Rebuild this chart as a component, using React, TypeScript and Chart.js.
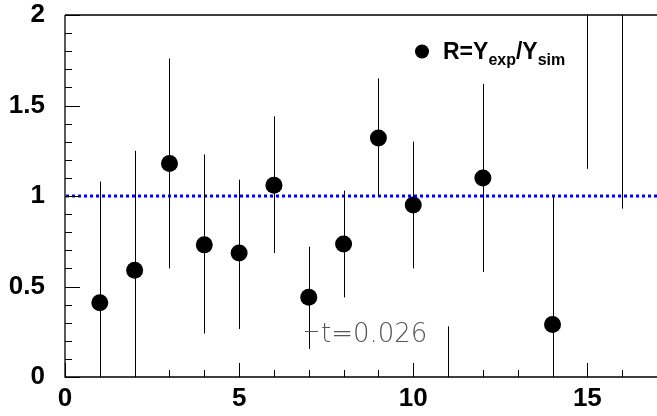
import { useEffect, useRef } from 'react';
import { Chart, registerables } from 'chart.js';

Chart.register(...registerables);

// ---- data ----
const xs = [1, 2, 3, 4, 5, 6, 7, 8, 9, 10, 11, 12, 14, 15, 16];
const ratio: (number | null)[] = [0.41, 0.59, 1.18, 0.73, 0.685, 1.06, 0.44, 0.735, 1.32, 0.95, null, 1.1, 0.29, 2.5, 2.4];
const errLow = [0, 0, 0.6, 0.24, 0.265, 0.685, 0.155, 0.44, 1.0, 0.6, 0, 0.58, 0, 1.15, 0.93];
const errHigh = [1.08, 1.25, 1.76, 1.23, 1.09, 1.44, 0.72, 1.03, 1.65, 1.3, 0.28, 1.62, 1.0, 3.6, 3.7];
const refValue = 1.0;
const xRange = [0, 17];
const yRange = [0, 2];
const xMajorStep = 5;
const yMajorStep = 0.5;
const xMinorPerMajor = 5;
const yMinorPerMajor = 5;
const legendLabel = { main: 'R=Y', sub1: 'exp', mid: '/Y', sub2: 'sim' };
const noteLabel = 't=0.026';

const decor = {
  id: 'rootDecor',
  beforeDatasetsDraw(chart: any) {
    const { ctx, chartArea: a, scales } = chart;
    const xs_ = scales.x;
    const ys_ = scales.y;
    ctx.save();
    ctx.beginPath();
    ctx.rect(a.left, a.top, a.right - a.left, a.bottom - a.top);
    ctx.clip();
    // reference dotted line
    const yr = ys_.getPixelForValue(refValue);
    ctx.strokeStyle = '#0000ff';
    ctx.lineWidth = 3;
    ctx.setLineDash([3, 3]);
    ctx.beginPath();
    ctx.moveTo(a.left + 1, yr);
    ctx.lineTo(a.right, yr);
    ctx.stroke();
    ctx.setLineDash([]);
    // error bars
    ctx.strokeStyle = '#000';
    ctx.lineWidth = 1;
    xs.forEach((x, i) => {
      const px = Math.round(xs_.getPixelForValue(x)) + 0.5;
      ctx.beginPath();
      ctx.moveTo(px, ys_.getPixelForValue(errLow[i]));
      ctx.lineTo(px, ys_.getPixelForValue(errHigh[i]));
      ctx.stroke();
    });
    ctx.restore();
  },
  afterDatasetsDraw(chart: any) {
    const { ctx, chartArea: a, scales } = chart;
    const xs_ = scales.x;
    const ys_ = scales.y;
    ctx.save();
    ctx.strokeStyle = '#000';
    ctx.lineWidth = 1.3;
    // frame: left axis, bottom axis, top line
    ctx.beginPath();
    ctx.moveTo(a.left, a.top);
    ctx.lineTo(a.left, a.bottom);
    ctx.lineTo(a.right, a.bottom);
    ctx.moveTo(a.left, a.top);
    ctx.lineTo(a.right, a.top);
    ctx.stroke();
    ctx.lineWidth = 1;
    // y ticks
    const ymaj = ys_.ticks.map((t: any) => t.value);
    for (let k = 0; k < ymaj.length; k++) {
      const v = ymaj[k];
      const py = Math.round(ys_.getPixelForValue(v)) + 0.5;
      ctx.beginPath();
      ctx.moveTo(a.left, py);
      ctx.lineTo(a.left + 15, py);
      ctx.stroke();
      if (k < ymaj.length - 1) {
        for (let m = 1; m < yMinorPerMajor; m++) {
          const mv = v + (yMajorStep * m) / yMinorPerMajor;
          const mp = Math.round(ys_.getPixelForValue(mv)) + 0.5;
          ctx.beginPath();
          ctx.moveTo(a.left, mp);
          ctx.lineTo(a.left + 7, mp);
          ctx.stroke();
        }
      }
    }
    // x ticks
    const xmaj = xs_.ticks.map((t: any) => t.value);
    for (let k = 0; k < xmaj.length; k++) {
      const v = xmaj[k];
      const px = Math.round(xs_.getPixelForValue(v)) + 0.5;
      ctx.beginPath();
      ctx.moveTo(px, a.bottom);
      ctx.lineTo(px, a.bottom - 14);
      ctx.stroke();
      for (let m = 1; m < xMinorPerMajor; m++) {
        const mv = v + (xMajorStep * m) / xMinorPerMajor;
        if (mv > xRange[1]) break;
        const mp = Math.round(xs_.getPixelForValue(mv)) + 0.5;
        ctx.beginPath();
        ctx.moveTo(mp, a.bottom);
        ctx.lineTo(mp, a.bottom - 7);
        ctx.stroke();
      }
    }
    ctx.restore();
  },
  afterDraw(chart: any) {
    const { ctx } = chart;
    ctx.save();
    // legend marker
    ctx.fillStyle = '#000';
    ctx.beginPath();
    ctx.arc(422, 51.5, 7, 0, Math.PI * 2);
    ctx.fill();
    // legend text with subscripts
    let x = 443;
    const base = 59;
    const big = "bold 23px 'Liberation Sans', Arial, sans-serif";
    const small = "bold 16px 'Liberation Sans', Arial, sans-serif";
    ctx.textBaseline = 'alphabetic';
    ctx.textAlign = 'left';
    ctx.font = big;
    ctx.fillText(legendLabel.main, x, base);
    x += ctx.measureText(legendLabel.main).width;
    ctx.font = small;
    ctx.fillText(legendLabel.sub1, x, base + 6);
    x += ctx.measureText(legendLabel.sub1).width;
    ctx.font = big;
    ctx.fillText(legendLabel.mid, x, base);
    x += ctx.measureText(legendLabel.mid).width;
    ctx.font = small;
    ctx.fillText(legendLabel.sub2, x, base + 6);
    // note text
    ctx.strokeStyle = '#555';
    ctx.lineWidth = 1;
    ctx.beginPath();
    ctx.moveTo(305, 331.5);
    ctx.lineTo(318, 331.5);
    ctx.stroke();
    ctx.fillStyle = '#555';
    ctx.font = "200 26px 'DejaVu Sans', Inter, sans-serif";
    ctx.fillText(noteLabel, 321, 342);
    ctx.restore();
  },
};

export default function App() {
  const ref = useRef<HTMLCanvasElement | null>(null);
  useEffect(() => {
    document.body.style.margin = '0';
    const canvas = ref.current;
    if (!canvas) return;
    const points = xs
      .map((x, i) => (ratio[i] === null ? null : { x, y: ratio[i] as number }))
      .filter((p) => p !== null);
    const labelFont = { family: "'Liberation Sans', Arial, sans-serif", size: 26, weight: 'bold' as const };
    const chart = new Chart(canvas, {
      type: 'scatter',
      data: {
        datasets: [
          {
            label: 'R',
            data: points as any,
            pointRadius: 8.5,
            pointHoverRadius: 8.5,
            backgroundColor: '#000',
            borderWidth: 0,
          },
        ],
      },
      options: {
        responsive: false,
        animation: false,
        events: [],
        layout: { autoPadding: false, padding: { top: 15, right: 0, left: 0, bottom: 0 } },
        plugins: { legend: { display: false }, tooltip: { enabled: false } },
        scales: {
          x: {
            type: 'linear',
            min: xRange[0],
            max: xRange[1],
            border: { display: false },
            grid: { display: false, drawTicks: false },
            ticks: { stepSize: xMajorStep, includeBounds: false, color: '#000', font: labelFont, padding: 6, maxRotation: 0 },
            afterFit: (s: any) => {
              s.height = 39;
              s.paddingLeft = 0;
              s.paddingRight = 0;
              s.paddingTop = 0;
              s.paddingBottom = 0;
            },
          },
          y: {
            type: 'linear',
            min: yRange[0],
            max: yRange[1],
            border: { display: false },
            grid: { display: false, drawTicks: false },
            ticks: {
              stepSize: yMajorStep,
              color: '#000',
              font: labelFont,
              padding: 20,
              callback: (v: any) => String(Number(v)),
            },
            afterFit: (s: any) => {
              s.width = 65;
              s.paddingLeft = 0;
              s.paddingRight = 0;
              s.paddingTop = 0;
              s.paddingBottom = 0;
            },
          },
        },
      },
      plugins: [decor],
    });
    return () => chart.destroy();
  }, []);
  return <canvas ref={ref} width={657} height={416} style={{ display: 'block' }} />;
}
